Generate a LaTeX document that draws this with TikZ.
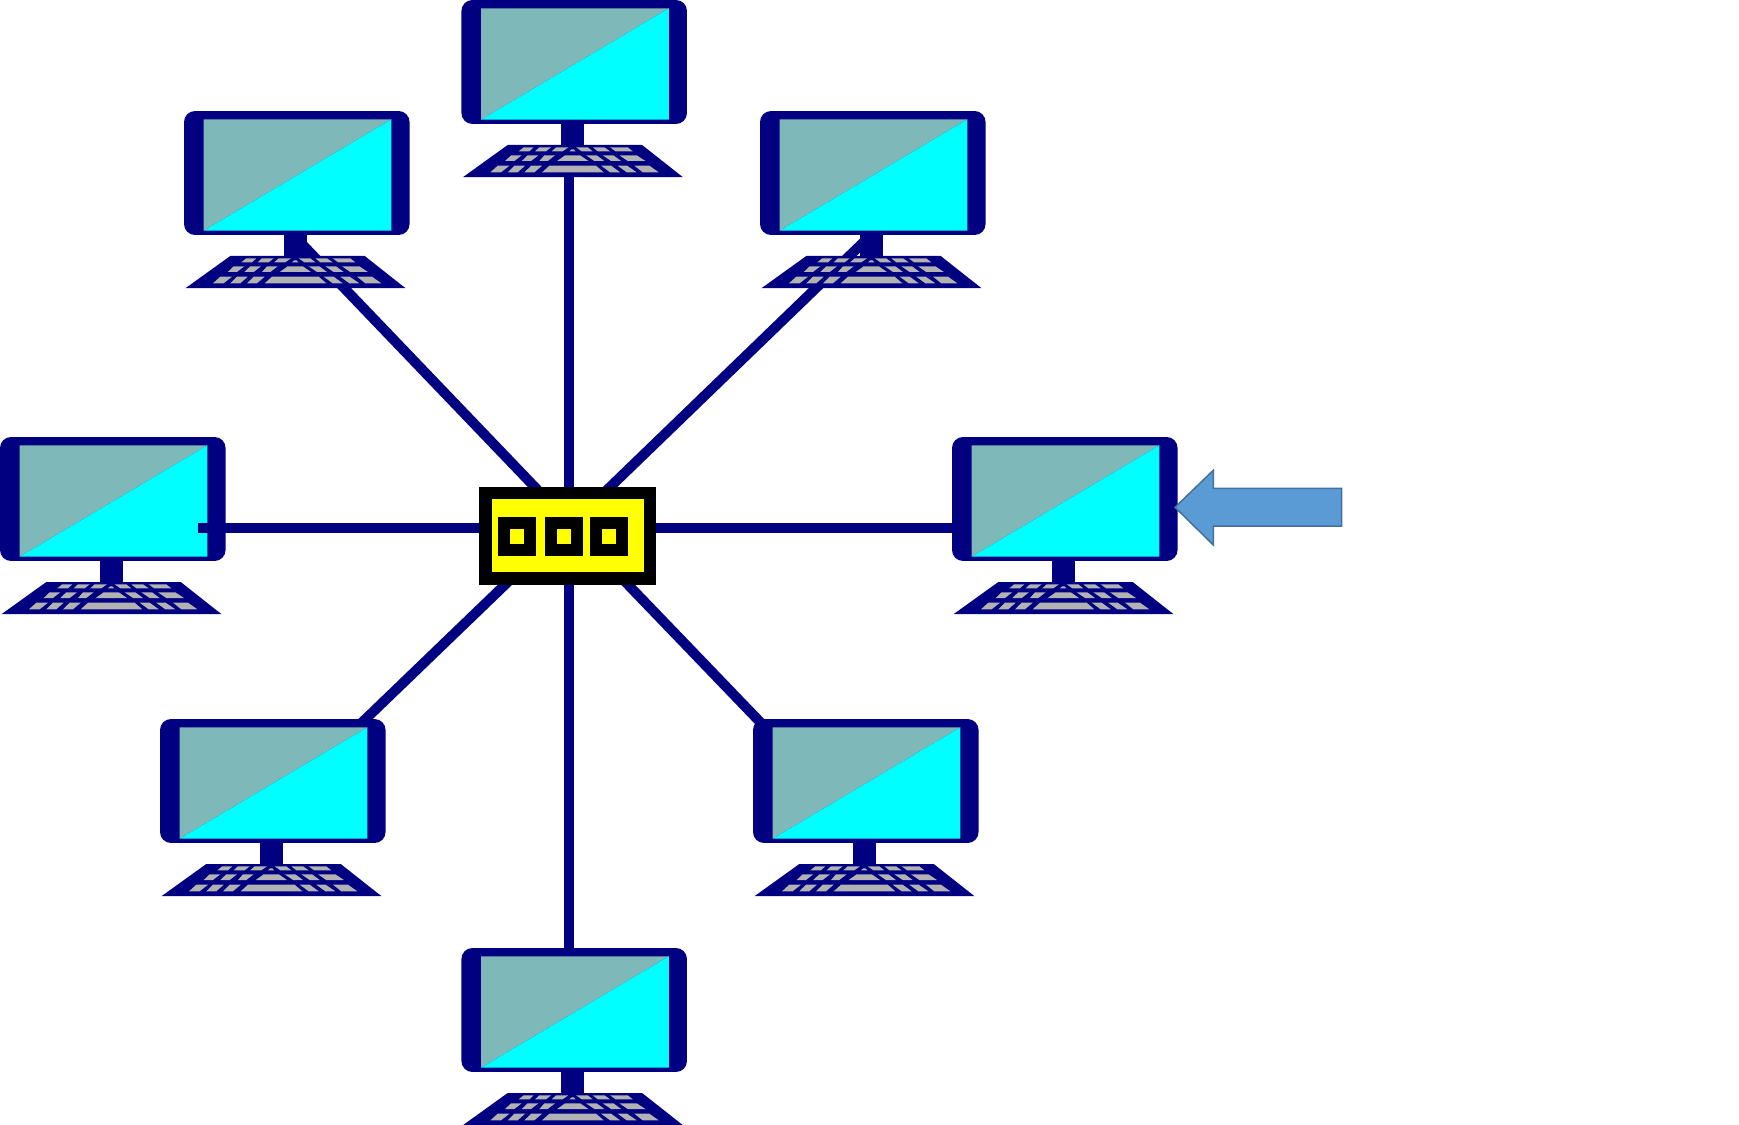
\documentclass[tikz,border=0pt]{standalone}
\usetikzlibrary{backgrounds}
\definecolor{pcnavy}{HTML}{000080}
\definecolor{pcdull}{HTML}{7FB8B8}
\definecolor{pccyan}{HTML}{00FFFF}
\definecolor{pckey}{HTML}{B2B2B2}
\definecolor{hubyellow}{HTML}{FFFF00}
\definecolor{arrowfill}{HTML}{5B9BD5}
\definecolor{arrowline}{HTML}{41719C}
\tikzset{
 wire/.style={draw=pcnavy,line width=0.2cm},
 monitor/.style={rectangle,fill=pcnavy,rounded corners=0.22cm,inner sep=0pt,outer sep=0pt,minimum width=4.512cm,minimum height=2.48cm},
 keycap/.style={fill=pckey},
 hubbox/.style={rectangle,draw=black,fill=hubyellow,line width=0.25cm,inner sep=0pt,minimum width=3.288cm,minimum height=1.714cm},
 hubport/.style={rectangle,draw=black,fill=hubyellow,line width=0.24cm,inner sep=0pt,minimum width=0.52cm,minimum height=0.54cm},
 computer/.pic={
  \fill[pcnavy](100,124)--(123,124)--(123,146)--(100,146)--cycle;
  \node[monitor] (-mon) at (112.8,62) {};
  \fill[pcdull](19.7,8.3)--(207.4,8.3)--(19.7,119.7)--cycle;
  \fill[pccyan](207.4,8.3)--(207.4,119.7)--(19.7,119.7)--cycle;
  \fill[pcnavy](46.3,145)--(180.7,145)--(221.5,177.2)--(1.5,177.2)--cycle;
  % top row
  \fill[keycap](62.3,147.3)--(72.3,147.3)--(68,151.3)--(57.3,151.3)--cycle;
  \fill[keycap](78,147.3)--(89.7,147.3)--(84.7,151.3)--(73.7,151.3)--cycle;
  \fill[keycap](94.7,147.3)--(107,147.3)--(101.3,151.3)--(90.3,151.3)--cycle;
  \fill[keycap](110.3,149.3)--(112.3,149.3)--(114.3,151.3)--(108,151.3)--cycle;
  \fill[keycap](114.7,147.3)--(126.3,147.3)--(131.3,151.3)--(120.3,151.3)--cycle;
  \fill[keycap](131.3,147.3)--(143,147.3)--(148.7,151.3)--(136.3,151.3)--cycle;
  \fill[keycap](148.7,147.3)--(166.3,147.3)--(171.3,151.3)--(154,151.3)--cycle;
  % middle row
  \fill[keycap](49.7,155.3)--(60.3,155.3)--(53,161)--(43.7,161)--cycle;
  \fill[keycap](66.3,155.3)--(77,155.3)--(69.7,161)--(60.3,161)--cycle;
  \fill[keycap](83,155.3)--(93.7,155.3)--(86.3,161)--(78,161)--cycle;
  \fill[keycap](103.7,155.3)--(118.7,155.3)--(127,161)--(95.7,161)--cycle;
  \fill[keycap](124.7,155.3)--(135.3,155.3)--(143,161)--(133,161)--cycle;
  \fill[keycap](141.3,155.3)--(152,155.3)--(159.7,161)--(149.7,161)--cycle;
  \fill[keycap](158,155.3)--(175.3,155.3)--(184,161)--(166.3,161)--cycle;
  % bottom row
  \fill[keycap](36.3,165.7)--(48,165.7)--(39.7,172.3)--(29,172.3)--cycle;
  \fill[keycap](53,165.7)--(63.7,165.7)--(56.3,172.3)--(46.3,172.3)--cycle;
  \fill[keycap](69.7,165.7)--(80.7,165.7)--(73,172.3)--(63,172.3)--cycle;
  \fill[keycap](88,165.7)--(134.7,165.7)--(142.3,172.3)--(80.7,172.3)--cycle;
  \fill[keycap](139.7,165.7)--(149.7,165.7)--(158.7,172.3)--(148.7,172.3)--cycle;
  \fill[keycap](156.3,165.7)--(165.7,165.7)--(175.3,172.3)--(165.3,172.3)--cycle;
  \fill[keycap](173,165.7)--(188,165.7)--(197.3,172.3)--(181.3,172.3)--cycle;
 }
}
\begin{document}
\begin{tikzpicture}[x=0.02cm,y=-0.02cm]
 \useasboundingbox (0,0) rectangle (1739,1125);
 \node[hubbox] (hub) at (567.65,535.85) {};
 \node[hubport] (porta) at (517.3,536.5) {};
 \node[hubport] (portb) at (564.3,536.5) {};
 \node[hubport] (portc) at (609.3,536.5) {};
 \coordinate (tipn) at (569.36,170);
 \coordinate (tips) at (569.36,950);
 \coordinate (tipnw) at (301,243);
 \coordinate (tipne) at (864.8,241);
 \coordinate (tipsw) at (360.4,724);
 \coordinate (tipse) at (762,724);
 \coordinate (tipw) at (198.3,528.3);
 \coordinate (tipe) at (952,528.3);
 % wires behind the computers
 \begin{scope}[on background layer]
 \draw[wire] (tipn)--(tipn |- hub.north);
 \draw[wire] (tips)--(tips |- hub.south);
 \draw[wire,shorten >=-0.16cm] (tipnw)--(hub.124.6);
 \draw[wire,shorten >=-0.16cm] (tipne)--(hub.49.45);
 \draw[wire,shorten >=-0.16cm] (tipsw)--(hub.218.47);
 \draw[wire,shorten >=-0.16cm] (tipse)--(hub.321.53);
 \end{scope}
 % computers
 \pic (pcn) at (461.4,0) {computer};
 \pic (pcnw) at (184,111) {computer};
 \pic (pcne) at (760,111) {computer};
 \pic (pcw) at (0,437) {computer};
 \pic (pce) at (952,437) {computer};
 \pic (pcsw) at (160,719) {computer};
 \pic (pcse) at (753,719) {computer};
 \pic (pcs) at (461.4,948) {computer};
 % these two lie over the computers
 \draw[wire] (tipw)--(tipw -| hub.west);
 \draw[wire] (tipe)--(tipe -| hub.east);
 % arrow
 \draw[line width=0.03cm,draw=arrowline,fill=arrowfill](1175,507.3)--(1213.3,470.3)--(1213.3,488.3)--(1341.7,488.3)--(1341.7,526)--(1213.3,526)--(1213.3,545)--cycle;
\end{tikzpicture}
\end{document}
